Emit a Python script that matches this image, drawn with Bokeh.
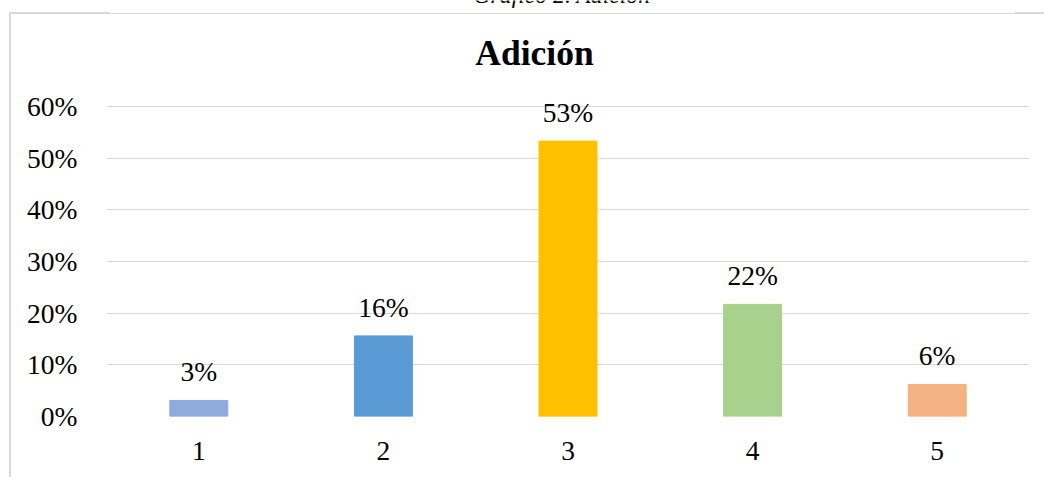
from bokeh.plotting import figure
from bokeh.models import (Range1d, FixedTicker, NumeralTickFormatter, Label, LabelSet,
                          ColumnDataSource)
from bokeh.embed import file_html
from bokeh.resources import INLINE

categories = ["1", "2", "3", "4", "5"]
values = [0.031, 0.156, 0.533, 0.217, 0.062]
colors = ["#8FAADC", "#5B9BD5", "#FFC000", "#A9D18E", "#F4B183"]
y_ticks = [0.0, 0.1, 0.2, 0.3, 0.4, 0.5, 0.6]
title_text = "Adición"
caption_text = "Gráfico 2. Adición"

labels = [f"{v:.0%}" for v in values]
source = ColumnDataSource(dict(cat=categories, val=values, color=colors, label=labels))

FONT = "Liberation Serif"
W, H = 1044, 477
GRAY = "#D9D9D9"
FRAME_BOTTOM = 416           # canvas y of the 0% line
PX_PER_UNIT = 310 / 0.6      # 0% .. 60% spans 310 px

# light chart border (left and top edges) painted behind the transparent canvas
border_css = {
    "background-image": ", ".join([f"linear-gradient({GRAY}, {GRAY})"] * 4),
    "background-size": "2px 100%, 101px 2px, 905px 1px, 40px 2px",
    "background-position": "9px 12px, 9px 12px, 110px 13px, 1015px 12px",
    "background-repeat": "no-repeat",
}

p = figure(x_range=categories, y_range=Range1d(0, FRAME_BOTTOM / PX_PER_UNIT),
           width=W, height=H,
           output_backend="svg", toolbar_location=None,
           min_border_left=106, min_border_right=W - 1029,
           min_border_top=0, min_border_bottom=H - FRAME_BOTTOM,
           styles=border_css)
try:
    p.title = None
except Exception:
    p.title.text = ""

p.vbar(x="cat", top="val", width=0.314, color="color", source=source)
p.add_layout(LabelSet(x="cat", y="val", text="label", source=source,
                      text_font=FONT, text_font_size="27.5px", text_color="#000000",
                      text_align="center", text_baseline="alphabetic", y_offset=19))

p.outline_line_color = None
p.background_fill_color = None
p.border_fill_color = None

p.xgrid.grid_line_color = None
p.ygrid.grid_line_color = GRAY
p.ygrid.grid_line_width = 1

p.yaxis.ticker = FixedTicker(ticks=y_ticks)
p.yaxis.formatter = NumeralTickFormatter(format="0%")
for ax in (p.xaxis, p.yaxis):
    ax.axis_line_color = None
    ax.major_tick_line_color = None
    ax.minor_tick_line_color = None
    ax.major_tick_out = 0
    ax.major_tick_in = 0
    ax.minor_tick_out = 0
    ax.major_label_text_font = FONT
    ax.major_label_text_font_size = "27.5px"
    ax.major_label_text_color = "#000000"
p.yaxis.major_label_standoff = 29
p.xaxis.major_label_standoff = 25

# chart title
p.add_layout(Label(x=534, y=52, x_units="canvas", y_units="canvas",
                   text=title_text,
                   text_font=FONT, text_font_size="35.5px", text_font_style="bold",
                   text_color="#000000", text_baseline="alphabetic", text_align="center"))

# caption above the chart (cut off at the top of the page in the reference)
p.add_layout(Label(x=473, y=-5.5, x_units="canvas", y_units="canvas",
                   text=caption_text,
                   text_font=FONT, text_font_size="23.7px", text_font_style="italic",
                   text_color="#000000", text_baseline="alphabetic", text_align="left"))

open("out.html", "w").write(file_html(p, INLINE))
